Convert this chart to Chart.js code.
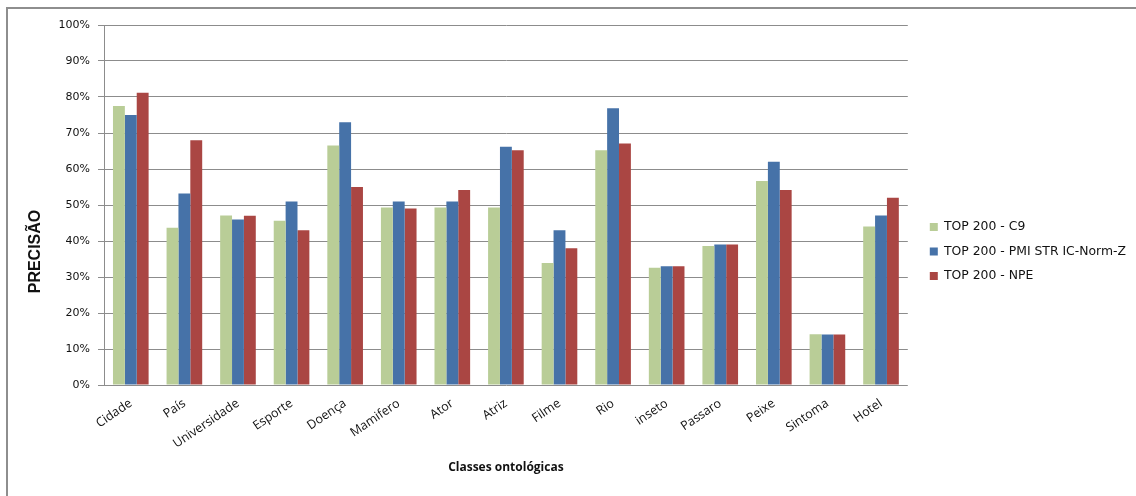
<!DOCTYPE html>
<html>
<head>
<meta charset="utf-8">
<script src="https://cdn.jsdelivr.net/npm/chart.js@4/dist/chart.umd.min.js"></script>
<style>
  html, body { margin: 0; padding: 0; background: #fff; }
  #wrap { position: relative; width: 1136px; height: 496px; overflow: hidden; }
  #frame { position: absolute; left: 6px; top: 7px; width: 1200px; height: 600px;
           border-left: 2px solid #8e8e8e; border-top: 2px solid #8e8e8e; pointer-events: none; }
  canvas { position: absolute; left: 0; top: 0; }
</style>
</head>
<body>
<div id="wrap">
  <canvas id="chart" width="1136" height="496"></canvas>
  <div id="frame"></div>
</div>
<script>
// Classes ontológicas avaliadas
const categories = ['Cidade', 'País', 'Universidade', 'Esporte', 'Doença', 'Mamifero', 'Ator',
                    'Atriz', 'Filme', 'Rio', 'inseto', 'Passaro', 'Peixe', 'Sintoma', 'Hotel'];

// Precisão (%) de cada método no TOP 200
const seriesNames = ['TOP 200 - C9', 'TOP 200 - PMI STR IC-Norm-Z', 'TOP 200 - NPE'];
const c9Values  = [77.5, 43.7, 47.1, 45.6, 66.5, 49.3, 49.3, 49.3, 33.9, 65.2, 32.6, 38.6, 56.7, 14.1, 44.0];
const pmiValues = [75.0, 53.2, 46.0, 51.0, 73.0, 51.0, 51.0, 66.2, 43.0, 76.9, 33.0, 39.0, 62.0, 14.0, 47.1];
const npeValues = [81.2, 68.0, 47.0, 43.0, 55.0, 49.0, 54.2, 65.2, 38.0, 67.1, 33.0, 39.0, 54.2, 14.0, 52.0];

// Eixo vertical: 0% a 100%, passo de 10%
const yMin = 0, yMax = 100, yStep = 10;

const colors = ['#b9cd97', '#4672a8', '#aa4643'];
const values = [c9Values, pmiValues, npeValues];

const datasets = seriesNames.map((name, i) => ({
  label: name,
  data: values[i],
  backgroundColor: colors[i],
  borderWidth: 0,
  barPercentage: 1.0,
  categoryPercentage: 0.665
}));

new Chart(document.getElementById('chart'), {
  type: 'bar',
  data: { labels: categories, datasets },
  options: {
    responsive: false,
    animation: false,
    devicePixelRatio: 1,
    layout: { padding: { top: 25, bottom: 18, left: 0, right: 0 } },
    plugins: {
      tooltip: { enabled: false },
      title: {
        display: true,
        position: 'left',
        text: 'PRECISÃO',
        color: '#111',
        font: { family: 'Liberation Sans', size: 16, weight: 'bold' },
        padding: { top: 26, bottom: 4 }
      },
      legend: {
        position: 'right',
        align: 'center',
        maxWidth: 320,
        labels: {
          boxWidth: 8,
          boxHeight: 8,
          padding: 12,
          color: '#111',
          font: { family: 'DejaVu Sans', size: 12.4 }
        }
      }
    },
    scales: {
      x: {
        grid: { display: false },
        border: { display: false },
        ticks: {
          autoSkip: false,
          minRotation: 34,
          maxRotation: 34,
          padding: 3,
          color: '#111',
          font: { family: 'Open Sans', size: 12.5 }
        },
        title: {
          display: true,
          text: 'Classes ontológicas',
          color: '#111',
          font: { family: 'Open Sans', size: 12, weight: 'bold' },
          padding: { top: 0, bottom: 3 }
        },
        afterFit: (s) => { s.height = 93; }
      },
      y: {
        min: yMin,
        max: yMax,
        ticks: {
          stepSize: yStep,
          padding: 8,
          color: '#111',
          font: { family: 'DejaVu Sans', size: 11 },
          callback: (v) => v + '%'
        },
        grid: { color: '#8c8c8c', lineWidth: 1, tickLength: 6 },
        border: { color: '#8c8c8c', width: 1 },
        afterFit: (s) => { s.width = 104 - 49.2; }
      },
      gap: {
        type: 'linear',
        position: 'right',
        display: true,
        grid: { display: false },
        border: { display: false },
        ticks: { display: false },
        afterFit: (s) => { s.width = 10; }
      }
    }
  }
});
</script>
</body>
</html>
